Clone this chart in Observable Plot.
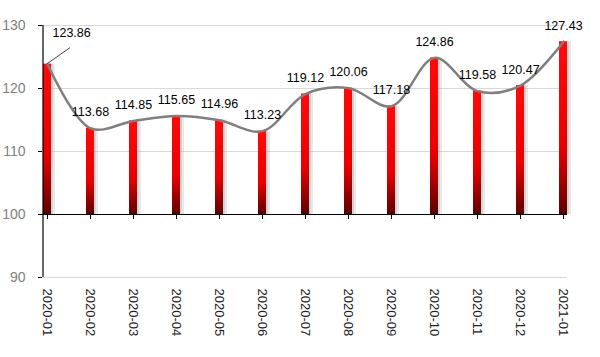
<!DOCTYPE html>
<html>
<head>
<meta charset="utf-8">
<script src="https://cdn.jsdelivr.net/npm/d3@7"></script>
<script src="https://cdn.jsdelivr.net/npm/@observablehq/plot@0.6"></script>
<style>
  html, body { margin: 0; padding: 0; background: #fff; }
</style>
</head>
<body>
<div id="chart"></div>
<script>
const months = ["2020-01","2020-02","2020-03","2020-04","2020-05","2020-06","2020-07","2020-08","2020-09","2020-10","2020-11","2020-12","2021-01"];
const values = [123.86,113.68,114.85,115.65,114.96,113.23,119.12,120.06,117.18,124.86,119.58,120.47,127.43];
const yTicks = [90,100,110,120,130];
const baseline = 100;

const data = months.map((m, i) => ({month: m, value: values[i]}));

const chart = Plot.plot({
  width: 600,
  height: 357,
  marginLeft: 42,
  marginRight: 33,
  marginTop: 25,
  marginBottom: 80,
  style: {fontFamily: "'Liberation Sans', Arial, sans-serif", background: "#fff"},
  x: {type: "band", domain: months, paddingInner: 0.814, paddingOuter: 0, label: null},
  y: {domain: [90, 130], ticks: yTicks, label: null},
  marks: [
    Plot.gridY(yTicks.filter(t => t !== baseline), {stroke: "#d9d9d9", strokeOpacity: 1}),
    Plot.barY(data, {x: "month", y1: baseline, y2: "value", fill: "#999", fillOpacity: 0.22, dx: 4}),
    Plot.barY(data, {x: "month", y1: baseline, y2: "value", fill: "#999", fillOpacity: 0.25, dx: 2}),
    Plot.barY(data, {x: "month", y1: baseline, y2: "value", fill: "url(#barGrad)"}),
    Plot.ruleY([baseline], {stroke: "black", strokeWidth: 1.2}),
    Plot.ruleX(data, {x: "month", y1: baseline, y2: baseline - 0.8, stroke: "black"}),
    Plot.line(data, {x: "month", y: "value", curve: "catmull-rom", stroke: "#7f7f7f", strokeWidth: 2.5}),
    Plot.text(data.slice(1), {x: "month", y: "value", text: d => d.value.toFixed(2), dy: -16, fontSize: 12.5, fill: "black"}),
    Plot.text(data.slice(0, 1), {x: "month", y: "value", text: d => d.value.toFixed(2), dy: -31, dx: 5, textAnchor: "start", fontSize: 12.5, fill: "black"}),
    Plot.axisY({ticks: yTicks, tickSize: 4, stroke: "black", color: "#808080", fontSize: 14, tickPadding: 13}),
    Plot.axisX({anchor: "bottom", tickRotate: 90, tickSize: 0, tickPadding: 11, fontSize: 13, color: "#222"})
  ]
});

// gradient definition for the bars
const svg = d3.select(chart);
const defs = svg.insert("defs", ":first-child");
const grad = defs.append("linearGradient").attr("id", "barGrad").attr("x1", 0).attr("y1", 0).attr("x2", 0).attr("y2", 1);
grad.append("stop").attr("offset", "0%").attr("stop-color", "#ff0a0a");
grad.append("stop").attr("offset", "62%").attr("stop-color", "#e80000");
grad.append("stop").attr("offset", "100%").attr("stop-color", "#5c0000");

// y axis line and leader line for the first label, positioned via Plot's scales
const sx = chart.scale("x"), sy = chart.scale("y");
const x0 = sx.apply(months[0]);
svg.append("line")
  .attr("x1", x0).attr("x2", x0)
  .attr("y1", sy.apply(yTicks[0])).attr("y2", sy.apply(yTicks[yTicks.length - 1]))
  .attr("stroke", "black").attr("stroke-width", 1.2);
const px = x0 + sx.bandwidth / 2, py = sy.apply(values[0]);
svg.append("line")
  .attr("x1", px).attr("y1", py).attr("x2", px + 23).attr("y2", py - 16)
  .attr("stroke", "#444").attr("stroke-width", 1);

document.getElementById("chart").appendChild(chart);
</script>
</body>
</html>
